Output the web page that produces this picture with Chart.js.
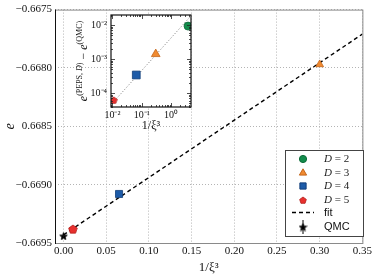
<!DOCTYPE html>
<html>
<head>
<meta charset="utf-8">
<script src="https://cdn.jsdelivr.net/npm/chart.js@4.4.0/dist/chart.umd.min.js"></script>
<style>
  body { margin: 0; background: #fff; }
  #wrap { position: relative; width: 374px; height: 276px; }
  #main { position: absolute; left: 0; top: 0; }
  #inset { position: absolute; left: 70px; top: 5px; }
</style>
</head>
<body>
<div id="wrap">
  <canvas id="main" width="374" height="276"></canvas>
  <canvas id="inset" width="130" height="128"></canvas>
</div>
<script>
// values
const seriesNames = ['D = 2', 'D = 3', 'D = 4', 'D = 5'];
const invXi3 = [3.8, 0.30, 0.065, 0.011];
const energy = [-0.66013, -0.66797, -0.66908, -0.66938];
const energyDiff = [0.0093, 0.0014, 0.00034, 0.000063];
const qmcX = [0.0];
const qmcE = [-0.66944];
const qmcErr = [0.00001];
const fitX = [0.0, 0.35];
const fitE = [-0.66943, -0.66771];
const insetFitX = [0.01, 4.4];
const insetFitY = [0.000051, 0.0172];

const xTicks = [0, 0.05, 0.10, 0.15, 0.20, 0.25, 0.30, 0.35];
const xTickLabels = ['0.00', '0.05', '0.10', '0.15', '0.20', '0.25', '0.30', '0.35'];
const yTicks = [-0.6695, -0.6690, -0.6685, -0.6680, -0.6675];
const yTickLabels = ['\u22120.6695', '\u22120.6690', '0.6685', '\u22120.6680', '\u22120.6675'];
const insetXTicks = [0.01, 0.1, 1];
const insetXTickLabels = ['10\u207B\u00B2', '10\u207B\u00B9', '10\u2070'];
const insetYTicks = [0.0001, 0.001, 0.01];
const insetYTickLabels = ['10\u207B\u2074', '10\u207B\u00B3', '10\u207B\u00B2'];

const fills = ['#138c4c', '#f08a30', '#1d5ba8', '#e8302e'];
const edges = ['#0c6a38', '#c4661a', '#123f7a', '#b01e1c'];

const SERIF = 'Liberation Serif';
const SANS = 'Liberation Sans';

function polygonMarker(n, size, fill, stroke, inner) {
  const c = document.createElement('canvas');
  c.width = size; c.height = size;
  const g = c.getContext('2d');
  const r = size / 2 - 0.5;
  const pts = inner ? n * 2 : n;
  g.beginPath();
  for (let i = 0; i < pts; i++) {
    const ang = -Math.PI / 2 + i * 2 * Math.PI / pts;
    const rr = inner && i % 2 ? r * inner : r;
    const px = size / 2 + rr * Math.cos(ang), py = size / 2 + 0.5 + rr * Math.sin(ang);
    i ? g.lineTo(px, py) : g.moveTo(px, py);
  }
  g.closePath();
  g.fillStyle = fill; g.fill();
  g.strokeStyle = stroke; g.lineWidth = 0.8; g.stroke();
  return c;
}

const pentaBig = polygonMarker(5, 10, fills[3], edges[3]);
const pentaSmall = polygonMarker(5, 8, fills[3], edges[3]);
const starBig = polygonMarker(5, 9, '#000', '#000', 0.42);
const starSmall = polygonMarker(5, 9, '#000', '#000', 0.42);

const mainStyles = ['circle', 'triangle', 'rect', pentaBig];
const mainRadius = [4, 4.5, 5, 4];
const insetStyles = ['circle', 'triangle', 'rect', pentaSmall];
const insetRadius = [4, 5, 5.5, 3.5];

const textFont = (size, style) => ({ family: SERIF, size: size, style: style || 'normal', lineHeight: 1.2 });

// ---------- main chart ----------
const mainDatasets = seriesNames.map((name, i) => ({
  label: name,
  data: [{ x: invXi3[i], y: energy[i] }],
  showLine: false,
  pointStyle: mainStyles[i],
  pointRadius: mainRadius[i],
  backgroundColor: fills[i],
  borderColor: edges[i],
  borderWidth: 0.8
}));
mainDatasets.push({
  label: 'QMC',
  data: qmcX.map((x, i) => ({ x: x, y: qmcE[i] })),
  showLine: false,
  pointStyle: starBig,
  pointRadius: 4,
  backgroundColor: '#000',
  borderColor: '#000'
});
mainDatasets.push({
  label: 'fit',
  data: fitX.map((x, i) => ({ x: x, y: fitE[i] })),
  showLine: true,
  borderColor: '#000',
  borderWidth: 1.4,
  borderDash: [4, 3],
  pointRadius: 0
});

const frame = {
  id: 'frame',
  afterDatasetsDraw(chart) {
    const a = chart.chartArea, ctx = chart.ctx;
    ctx.save();
    ctx.strokeStyle = '#8a8a8a';
    ctx.lineWidth = 1;
    ctx.strokeRect(a.left + 0.5, a.top + 0.5, a.right - a.left, a.bottom - a.top);
    ctx.strokeStyle = '#111';
    ctx.beginPath();
    ctx.moveTo(a.left + 0.5, a.top);
    ctx.lineTo(a.left + 0.5, a.bottom + 1);
    ctx.stroke();
    // error bar of the QMC value
    const xs = chart.scales.x, ys = chart.scales.y;
    qmcX.forEach((x, i) => {
      const px = xs.getPixelForValue(x);
      ctx.beginPath();
      ctx.moveTo(px, ys.getPixelForValue(qmcE[i] - qmcErr[i]));
      ctx.lineTo(px, ys.getPixelForValue(qmcE[i] + qmcErr[i]));
      ctx.stroke();
    });
    ctx.restore();
  }
};

const boxLegend = {
  id: 'boxLegend',
  afterDraw(chart) {
    const ctx = chart.ctx;
    const L = 285.5, T = 150.5, W = 78, H = 86;
    ctx.save();
    ctx.fillStyle = '#fff';
    ctx.fillRect(L, T, W, H);
    ctx.strokeStyle = '#444';
    ctx.lineWidth = 1;
    ctx.strokeRect(L, T, W, H);
    const mx = 303, tx = 324;
    const rows = [159, 173, 186, 200, 212.5, 227];
    seriesNames.forEach((name, i) => {
      const y = rows[i];
      if (i === 3) {
        ctx.drawImage(pentaSmall, mx - 4, y - 4);
      } else {
        ctx.fillStyle = fills[i];
        ctx.strokeStyle = edges[i];
        Chart.helpers.drawPoint(ctx, { pointStyle: mainStyles[i], radius: [3.6, 4.2, 4.4][i], borderWidth: 0.6, rotation: 0 }, mx, y);
      }
      const parts = name.split(' = ');
      ctx.fillStyle = '#222';
      ctx.textBaseline = 'middle';
      ctx.font = 'italic 11px "' + SERIF + '"';
      ctx.fillText(parts[0], tx, y);
      const w = ctx.measureText(parts[0]).width;
      ctx.font = '11px "' + SERIF + '"';
      ctx.fillText(' = ' + parts[1], tx + w, y);
    });
    // fit entry
    ctx.strokeStyle = '#000';
    ctx.lineWidth = 1.4;
    ctx.setLineDash([4, 3]);
    ctx.beginPath();
    ctx.moveTo(292, rows[4]);
    ctx.lineTo(314, rows[4]);
    ctx.stroke();
    ctx.setLineDash([]);
    // QMC entry with its error bar
    ctx.lineWidth = 1;
    ctx.beginPath();
    ctx.moveTo(mx, rows[5] - 7);
    ctx.lineTo(mx, rows[5] + 7);
    ctx.stroke();
    ctx.drawImage(starSmall, mx - 4.5, rows[5] - 4.5);
    ctx.fillStyle = '#111';
    ctx.font = '11px "' + SANS + '"';
    ctx.fillText('fit', tx, rows[4]);
    ctx.fillText('QMC', tx, rows[5]);
    ctx.restore();
  }
};

new Chart(document.getElementById('main'), {
  type: 'scatter',
  data: { datasets: mainDatasets },
  options: {
    responsive: false,
    animation: false,
    devicePixelRatio: 1,
    layout: { padding: { top: 5, right: 10, left: 0, bottom: 0 } },
    plugins: { legend: { display: false }, tooltip: { enabled: false } },
    scales: {
      x: {
        type: 'linear',
        min: -0.01,
        max: 0.35,
        afterBuildTicks: s => { s.ticks = xTicks.map(v => ({ value: v })); },
        afterFit: s => { s.height = 33; },
        ticks: { callback: (v, i) => xTickLabels[i], font: textFont(11), color: '#111', padding: 2, maxRotation: 0, autoSkip: false },
        grid: { color: '#b4b4b4', lineWidth: 1, drawTicks: false },
        border: { display: false, dash: [1, 2] },
        title: { display: true, text: '1/\u03BE\u00B3', font: textFont(13), color: '#111', padding: { top: 0, bottom: 1 } }
      },
      y: {
        type: 'linear',
        min: -0.6695,
        max: -0.6675,
        afterBuildTicks: s => { s.ticks = yTicks.map(v => ({ value: v })); },
        afterFit: s => { s.width = 55; },
        ticks: { callback: (v, i) => yTickLabels[i], font: textFont(11), color: '#111', padding: 3, autoSkip: false },
        grid: { color: '#b4b4b4', lineWidth: 1, drawTicks: false },
        border: { display: false, dash: [1, 2] },
        title: { display: true, text: 'e', font: textFont(14, 'italic'), color: '#111', padding: { top: 2, bottom: 0 } }
      }
    }
  },
  plugins: [frame, boxLegend]
});

// ---------- inset ----------
const insetDatasets = seriesNames.map((name, i) => ({
  label: name,
  data: [{ x: invXi3[i], y: energyDiff[i] }],
  showLine: false,
  pointStyle: insetStyles[i],
  pointRadius: insetRadius[i],
  backgroundColor: fills[i],
  borderColor: edges[i],
  borderWidth: 0.8
}));
insetDatasets.push({
  label: 'power law',
  data: insetFitX.map((x, i) => ({ x: x, y: insetFitY[i] })),
  showLine: true,
  borderColor: '#777',
  borderWidth: 1,
  borderDash: [1, 2],
  pointRadius: 0
});

const insetDeco = {
  id: 'insetDeco',
  beforeDraw(chart) {
    const a = chart.chartArea, ctx = chart.ctx;
    ctx.save();
    ctx.fillStyle = '#fff';
    ctx.fillRect(a.left, a.top, a.right - a.left, a.bottom - a.top);
    ctx.restore();
  },
  afterDraw(chart) {
    const a = chart.chartArea, ctx = chart.ctx;
    const xs = chart.scales.x, ys = chart.scales.y;
    ctx.save();
    ctx.strokeStyle = '#222';
    ctx.lineWidth = 0.8;
    // inward log ticks on all four sides
    const tickSet = (lo, hi) => {
      const out = [];
      for (let e = Math.floor(Math.log10(lo)); e <= Math.ceil(Math.log10(hi)); e++) {
        for (let m = 1; m <= 9; m++) {
          const v = m * Math.pow(10, e);
          if (v >= lo && v <= hi) out.push({ v: v, major: m === 1 });
        }
      }
      return out;
    };
    ctx.beginPath();
    tickSet(xs.min, xs.max).forEach(t => {
      const px = Math.round(xs.getPixelForValue(t.v)) + 0.5, len = t.major ? 4 : 2;
      ctx.moveTo(px, a.bottom); ctx.lineTo(px, a.bottom - len);
      ctx.moveTo(px, a.top); ctx.lineTo(px, a.top + len);
    });
    tickSet(ys.min, ys.max).forEach(t => {
      const py = Math.round(ys.getPixelForValue(t.v)) + 0.5, len = t.major ? 4 : 2;
      ctx.moveTo(a.left, py); ctx.lineTo(a.left + len, py);
      ctx.moveTo(a.right, py); ctx.lineTo(a.right - len, py);
    });
    ctx.stroke();
    ctx.lineWidth = 1.2;
    ctx.strokeStyle = '#111';
    ctx.strokeRect(a.left, a.top, a.right - a.left, a.bottom - a.top);
    // rotated y title with superscripts
    const parts = [
      ['e', 12, 0, 'italic'], ['(PEPS, ', 8, -5, 'normal'], ['D', 8, -5, 'italic'], [')', 8, -5, 'normal'],
      [' \u2212 ', 12, 0, 'normal'], ['e', 12, 0, 'italic'], ['(QMC)', 8, -5, 'normal']
    ];
    let total = 0;
    parts.forEach(p => { ctx.font = p[3] + ' ' + p[1] + 'px "' + SERIF + '"'; total += ctx.measureText(p[0]).width; });
    ctx.translate(14, (a.top + a.bottom) / 2);
    ctx.rotate(-Math.PI / 2);
    ctx.fillStyle = '#111';
    ctx.textBaseline = 'alphabetic';
    let cx = -total / 2;
    parts.forEach(p => {
      ctx.font = p[3] + ' ' + p[1] + 'px "' + SERIF + '"';
      ctx.fillText(p[0], cx, 3 + p[2]);
      cx += ctx.measureText(p[0]).width;
    });
    ctx.restore();
  }
};

new Chart(document.getElementById('inset'), {
  type: 'scatter',
  data: { datasets: insetDatasets },
  options: {
    responsive: false,
    animation: false,
    devicePixelRatio: 1,
    layout: { padding: { top: 10, right: 9, left: 0, bottom: 0 } },
    plugins: { legend: { display: false }, tooltip: { enabled: false } },
    scales: {
      x: {
        type: 'logarithmic',
        min: 0.0089,
        max: 4.8,
        afterBuildTicks: s => { s.ticks = insetXTicks.map(v => ({ value: v })); },
        afterFit: s => { s.height = 26; },
        ticks: { callback: (v, i) => insetXTickLabels[i], font: textFont(10), color: '#111', padding: 2, maxRotation: 0, autoSkip: false },
        grid: { display: false, drawTicks: false },
        border: { display: false },
        title: { display: true, text: '1/\u03BE\u00B3', font: textFont(12), color: '#111', padding: { top: 0, bottom: 0 } }
      },
      y: {
        type: 'logarithmic',
        min: 0.000039,
        max: 0.0197,
        afterBuildTicks: s => { s.ticks = insetYTicks.map(v => ({ value: v })); },
        afterFit: s => { s.width = 41; },
        ticks: { callback: (v, i) => insetYTickLabels[i], font: textFont(10), color: '#111', padding: 4, autoSkip: false },
        grid: { display: false, drawTicks: false },
        border: { display: false }
      }
    }
  },
  plugins: [insetDeco]
});
</script>
</body>
</html>
